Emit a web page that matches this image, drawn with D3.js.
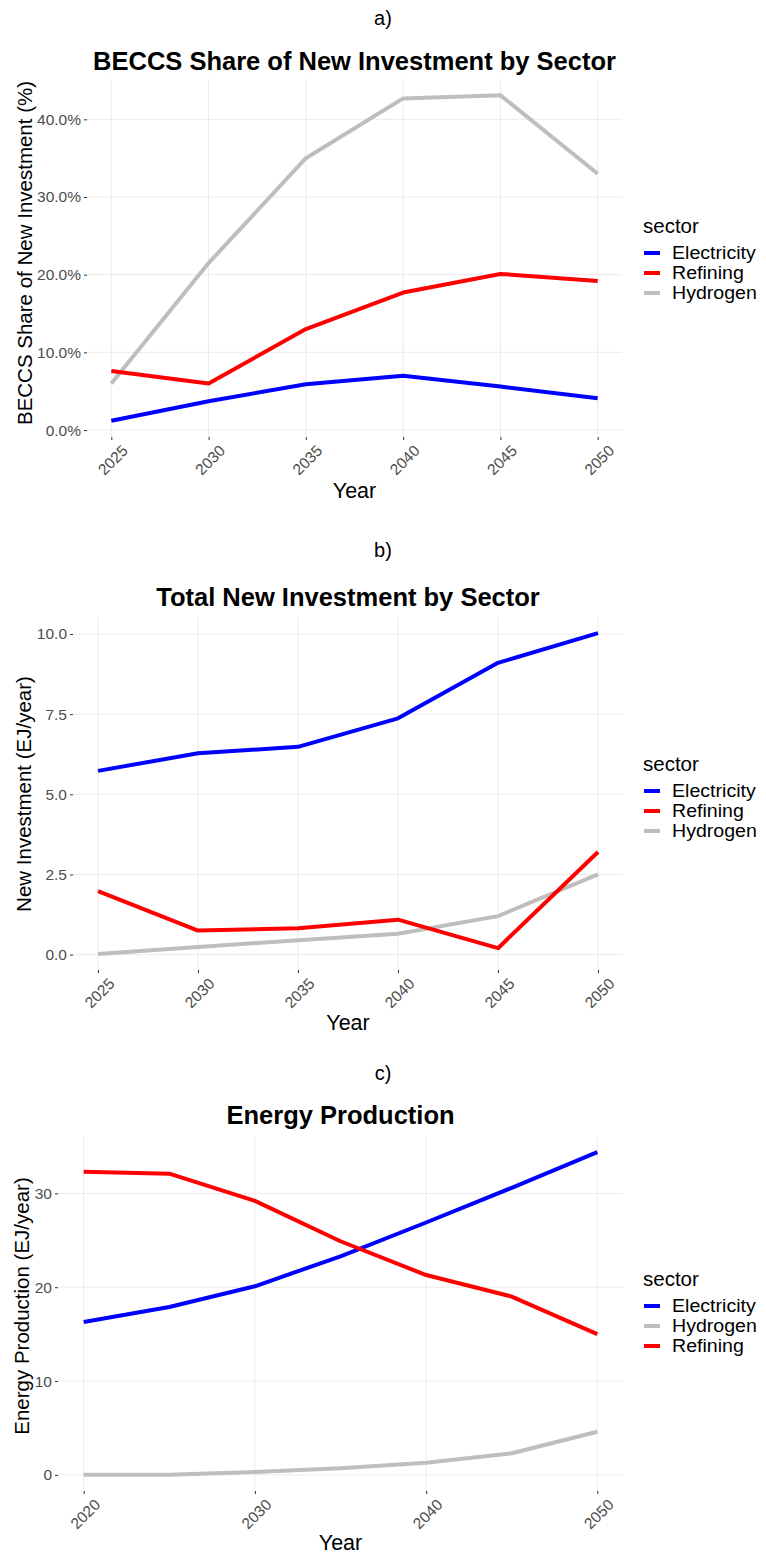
<!DOCTYPE html>
<html>
<head>
<meta charset="utf-8">
<script src="https://cdn.jsdelivr.net/npm/d3@7"></script>
<style>
  html, body { margin: 0; padding: 0; background: #ffffff; }
  svg { display: block; font-family: "Liberation Sans", Arial, sans-serif; }
</style>
</head>
<body>
<svg id="chart" width="766" height="1556"></svg>
<script>
// ---------------- DATA ----------------
const yearsA = [2025, 2030, 2035, 2040, 2045, 2050];
const shareElectricity = [1.2, 3.7, 5.9, 7.0, 5.6, 4.1];
const shareRefining    = [7.6, 6.0, 13.0, 17.7, 20.1, 19.2];
const shareHydrogen    = [6.0, 21.5, 35.0, 42.7, 43.1, 33.0];
const ticksA = [0, 10, 20, 30, 40];

const yearsB = [2025, 2030, 2035, 2040, 2045, 2050];
const investElectricity = [5.73, 6.28, 6.48, 7.37, 9.10, 10.03];
const investRefining    = [1.98, 0.75, 0.82, 1.09, 0.20, 3.20];
const investHydrogen    = [0.02, 0.24, 0.45, 0.65, 1.20, 2.50];
const ticksB = [0, 2.5, 5, 7.5, 10];

const yearsC = [2020, 2025, 2030, 2035, 2040, 2045, 2050];
const prodElectricity = [16.3, 17.9, 20.1, 23.3, 26.9, 30.6, 34.4];
const prodHydrogen    = [0.0, 0.0, 0.3, 0.7, 1.3, 2.3, 4.6];
const prodRefining    = [32.3, 32.1, 29.2, 24.9, 21.3, 19.0, 15.0];
const ticksC = [0, 10, 20, 30];
const xTicksC = [2020, 2030, 2040, 2050];

const xTicksAB = [2025, 2030, 2035, 2040, 2045, 2050];

const BLUE = "#0000ff", RED = "#ff0000", GREY = "#bebebe";

const panels = [
  {
    tag: "a)", title: "BECCS Share of New Investment by Sector",
    ylab: "BECCS Share of New Investment (%)",
    years: yearsA, xTicks: xTicksAB, yTicks: ticksA,
    fmt: d => d.toFixed(1) + "%",
    series: [
      { name: "Electricity", values: shareElectricity, color: BLUE },
      { name: "Refining", values: shareRefining, color: RED },
      { name: "Hydrogen", values: shareHydrogen, color: GREY }
    ],
    drawOrder: [2, 1, 0],
    box: { left: 87, right: 622, top: 79, bottom: 437 },
    tagY: 18, titleY: 61, xlabY: 491, legendY: 225, ylabY: 253, ylabX: 24
  },
  {
    tag: "b)", title: "Total New Investment by Sector",
    ylab: "New Investment (EJ/year)",
    years: yearsB, xTicks: xTicksAB, yTicks: ticksB,
    fmt: d => d.toFixed(1),
    series: [
      { name: "Electricity", values: investElectricity, color: BLUE },
      { name: "Refining", values: investRefining, color: RED },
      { name: "Hydrogen", values: investHydrogen, color: GREY }
    ],
    drawOrder: [2, 1, 0],
    box: { left: 73, right: 623, top: 617, bottom: 970 },
    tagY: 550, titleY: 597, xlabY: 1023, legendY: 763, ylabY: 794, ylabX: 23
  },
  {
    tag: "c)", title: "Energy Production",
    ylab: "Energy Production (EJ/year)",
    years: yearsC, xTicks: xTicksC, yTicks: ticksC,
    fmt: d => d3.format("d")(d),
    series: [
      { name: "Electricity", values: prodElectricity, color: BLUE },
      { name: "Hydrogen", values: prodHydrogen, color: GREY },
      { name: "Refining", values: prodRefining, color: RED }
    ],
    drawOrder: [1, 0, 2],
    box: { left: 58, right: 623, top: 1136, bottom: 1491 },
    tagY: 1073, titleY: 1115, xlabY: 1543, legendY: 1278, ylabY: 1306, ylabX: 21
  }
];

const svg = d3.select("#chart");

function expand(ext, m) {
  const r = ext[1] - ext[0];
  return [ext[0] - r * m, ext[1] + r * m];
}

panels.forEach(p => {
  const b = p.box;
  const all = p.series.flatMap(s => s.values);
  const x = d3.scaleLinear().domain(expand(d3.extent(p.years), 0.05)).range([b.left, b.right]);
  const y = d3.scaleLinear().domain(expand(d3.extent(all), 0.05)).range([b.bottom, b.top]);
  const g = svg.append("g");

  // grid
  g.append("g").selectAll("line").data(p.yTicks).join("line")
    .attr("x1", b.left).attr("x2", b.right)
    .attr("y1", d => y(d)).attr("y2", d => y(d))
    .attr("stroke", "#ebebeb").attr("stroke-width", 1);
  g.append("g").selectAll("line").data(p.xTicks).join("line")
    .attr("y1", b.top).attr("y2", b.bottom)
    .attr("x1", d => x(d)).attr("x2", d => x(d))
    .attr("stroke", "#ebebeb").attr("stroke-width", 1);

  // y axis
  const ya = d3.axisLeft(y).tickValues(p.yTicks).tickFormat(p.fmt).tickSize(3).tickPadding(3);
  const yg = g.append("g").attr("transform", `translate(${b.left},0)`).call(ya);
  yg.select(".domain").remove();
  yg.selectAll(".tick line").attr("stroke", "#333333");
  yg.selectAll(".tick text").attr("fill", "#4d4d4d").style("font-size", "15.5px");

  // x axis
  const xa = d3.axisBottom(x).tickValues(p.xTicks).tickFormat(d3.format("d")).tickSize(3).tickPadding(2);
  const xg = g.append("g").attr("transform", `translate(0,${b.bottom})`).call(xa);
  xg.select(".domain").remove();
  xg.selectAll(".tick line").attr("stroke", "#333333");
  xg.selectAll(".tick text").attr("fill", "#4d4d4d").style("font-size", "15.5px")
    .attr("text-anchor", "middle").attr("dy", null).attr("y", 0).attr("x", 0)
    .attr("transform", "translate(1,23) rotate(-45)")
    .attr("dominant-baseline", "central");

  // lines
  const line = d3.line().x(d => x(d[0])).y(d => y(d[1]));
  p.drawOrder.forEach(i => {
    const s = p.series[i];
    g.append("path")
      .datum(p.years.map((yr, k) => [yr, s.values[k]]))
      .attr("d", line)
      .attr("fill", "none").attr("stroke", s.color)
      .attr("stroke-width", 4).attr("stroke-linejoin", "round");
  });

  const cx = (b.left + b.right) / 2;
  // tag
  svg.append("text").attr("x", 383).attr("y", p.tagY).attr("text-anchor", "middle")
    .attr("dominant-baseline", "central").style("font-size", "20px").attr("fill", "#000").text(p.tag);
  // title
  svg.append("text").attr("x", cx).attr("y", p.titleY).attr("text-anchor", "middle")
    .attr("dominant-baseline", "central").style("font-size", "25.5px").style("font-weight", "bold")
    .attr("fill", "#000").text(p.title);
  // y label
  svg.append("text").attr("transform", `translate(${p.ylabX},${p.ylabY}) rotate(-90)`)
    .attr("text-anchor", "middle").attr("dominant-baseline", "central")
    .style("font-size", "20.5px").attr("fill", "#000").text(p.ylab);
  // x label
  svg.append("text").attr("x", cx).attr("y", p.xlabY).attr("text-anchor", "middle")
    .attr("dominant-baseline", "central").style("font-size", "21.5px").attr("fill", "#000").text("Year");

  // legend
  const lg = svg.append("g").attr("transform", `translate(643,${p.legendY})`);
  lg.append("text").attr("x", 0).attr("y", 0).attr("dominant-baseline", "central")
    .style("font-size", "20.5px").attr("fill", "#000").text("sector");
  p.series.forEach((s, i) => {
    const yy = 28 + i * 20;
    lg.append("line").attr("x1", 1).attr("x2", 17).attr("y1", yy).attr("y2", yy)
      .attr("stroke", s.color).attr("stroke-width", 4);
    lg.append("text").attr("transform", `translate(29,${yy}) scale(1.12,1)`)
      .attr("dominant-baseline", "central")
      .style("font-size", "17.5px").attr("fill", "#000").text(s.name);
  });
});
</script>
</body>
</html>
